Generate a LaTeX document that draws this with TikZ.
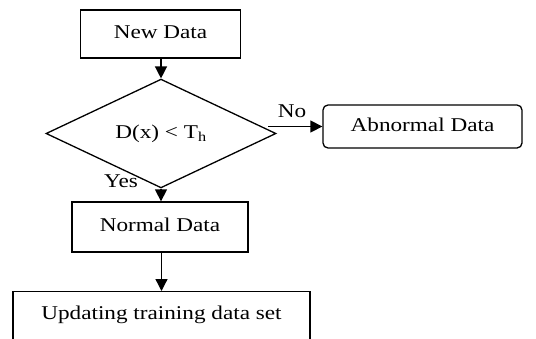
\documentclass[tikz,border=0pt]{standalone}
\usepackage{fontspec}
\setmainfont{Liberation Serif}[FakeStretch=1.19]
\usetikzlibrary{shapes.geometric,arrows.meta}
\begin{document}
\begin{tikzpicture}[x=1pt,y=-1pt,
  every node/.style={font=\fontsize{19.5}{23}\selectfont, text depth=4pt},
  box/.style={draw, line width=1.3pt, inner sep=2pt},
  decision/.style={draw, diamond, line width=1.3pt, inner sep=0pt},
  flow/.style={line width=1.3pt, -{Triangle[length=12pt,width=12pt]}},
  lbl/.style={inner sep=0pt, text depth=0pt}]
\useasboundingbox (0,0) rectangle (536,338);
\clip (0,0) rectangle (536,338);

\node[box, minimum width=160, minimum height=48] (new) at (160.5,34) {New Data};
\node[decision, minimum width=230, minimum height=67] (dec) at (161,133.5) {D(x) < T\textsubscript{h}};
\node[box, rounded corners=5pt, minimum width=199, minimum height=43] (abn) at (422.5,126.5) {Abnormal Data};
\node[box, minimum width=176, minimum height=50] (nor) at (160,227) {Normal Data};
\node[box, anchor=north, minimum width=297, inner ysep=6pt, text height=21.5pt, text depth=30pt] (upd) at (161.5,291) {Updating training data set};

\coordinate (nostart) at (268,126.5);

\draw[flow] (new.south -| dec.north) -- (dec.north);
\draw[flow] (nostart) -- (abn.west);
\draw[flow] (dec.south) -- (dec.south |- nor.north);
\draw[flow] (nor.south -| upd.north) -- (upd.north);

\node[lbl] (no) at (292,111) {No};
\node[lbl] (yes) at (121,181) {Yes};
\end{tikzpicture}
\end{document}
